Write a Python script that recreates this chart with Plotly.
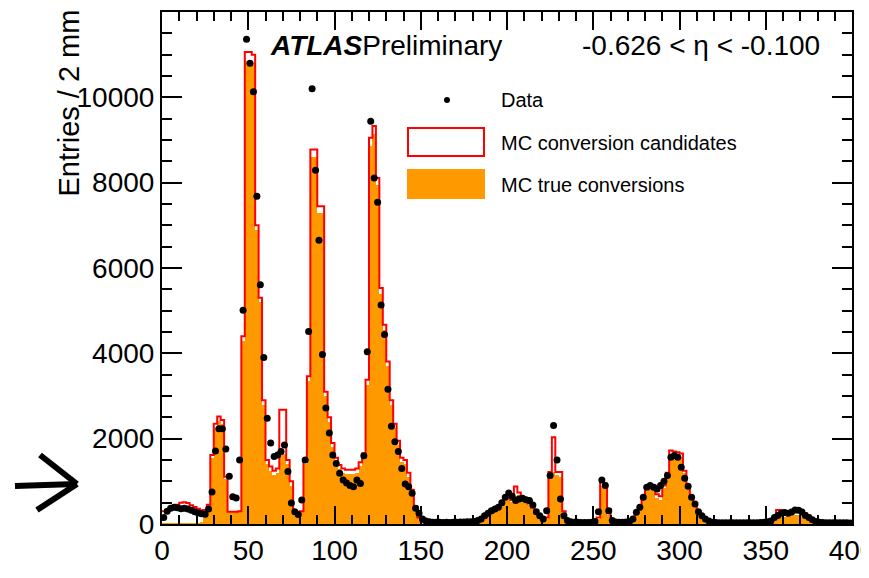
import plotly.graph_objects as go

# ---------------- data (2 mm bins, 0-400 mm) ----------------
bin_edges = list(range(0, 402, 2))
bin_centers = [e + 1 for e in bin_edges[:-1]]

mc_candidates = [
    300, 330, 370, 400, 450, 500, 510, 490, 440, 400,
    360, 320, 330, 450, 1620, 2350, 2520, 2440, 1110, 290,
    290, 290, 300, 4400, 11060, 11060, 11000, 7000, 5300, 2900,
    1500, 1350, 1250, 1300, 2680, 2680, 1500, 1000, 290, 290,
    300, 1500, 3460, 8780, 8780, 7450, 7450, 3100, 2500, 1900,
    1550, 1380, 1300, 1270, 1270, 1270, 1300, 1450, 1650, 3380,
    9050, 9330, 8110, 5530, 4670, 3810, 2900, 2350, 1950, 1550,
    1500, 1200, 800, 420, 150, 60, 40, 35, 30, 30,
    30, 30, 30, 30, 30, 30, 35, 35, 40, 40,
    45, 60, 90, 150, 220, 280, 330, 400, 520, 620,
    600, 560, 880, 740, 620, 580, 480, 380, 250, 150,
    80, 150, 1220, 2035, 1220, 1220, 300, 80, 40, 35,
    35, 30, 30, 30, 35, 40, 150, 1000, 950, 250,
    60, 40, 35, 35, 40, 50, 80, 250, 400, 600,
    820, 900, 900, 700, 650, 900, 1200, 1720, 1700, 1680,
    1650, 1250, 900, 650, 450, 300, 200, 120, 70, 45,
    35, 30, 30, 30, 30, 30, 30, 30, 30, 30,
    30, 30, 30, 35, 40, 50, 60, 150, 330, 330,
    250, 260, 280, 300, 290, 280, 250, 200, 130, 60,
    40, 35, 30, 30, 30, 30, 30, 30, 30, 30,
]

mc_true = [
    10, 10, 15, 15, 20, 20, 20, 20, 20, 20,
    20, 30, 250, 400, 1550, 2250, 2420, 2350, 1050, 270,
    270, 270, 280, 4300, 10860, 10860, 10800, 6900, 5200, 2800,
    1400, 1250, 1150, 1200, 1650, 1650, 1400, 900, 270, 270,
    280, 1400, 3350, 8600, 8600, 7300, 7300, 3000, 2400, 1800,
    1450, 1300, 1200, 1180, 1180, 1180, 1200, 1350, 1550, 3250,
    8850, 9150, 7950, 5400, 4550, 3700, 2800, 2250, 1850, 1450,
    1400, 1100, 720, 380, 130, 40, 20, 15, 10, 10,
    10, 10, 10, 10, 10, 10, 12, 12, 15, 15,
    20, 30, 60, 120, 190, 250, 300, 370, 480, 580,
    560, 520, 650, 680, 580, 540, 450, 350, 220, 120,
    50, 120, 1100, 1220, 1150, 1100, 260, 50, 15, 10,
    10, 10, 10, 10, 12, 15, 120, 900, 820, 200,
    30, 15, 12, 12, 15, 25, 60, 220, 370, 560,
    780, 860, 860, 620, 560, 850, 1150, 1650, 1620, 1600,
    1580, 1200, 860, 620, 420, 270, 170, 100, 50, 25,
    15, 10, 10, 10, 10, 10, 10, 10, 10, 10,
    10, 10, 10, 12, 15, 20, 30, 100, 200, 220,
    160, 180, 200, 220, 210, 200, 180, 140, 90, 40,
    20, 15, 10, 10, 10, 10, 10, 10, 10, 10,
]

data_counts = [
    150, 300, 370, 390, 380, 360, 370, 350, 320, 290,
    260, 240, 230, 350, 750, 1710, 2230, 2230, 1760, 1120,
    640, 610, 1500, 5010, 11360, 10800, 10130, 7680, 5610, 3900,
    2480, 1900, 1580, 1620, 1700, 1850, 1230, 490, 290, 220,
    560, 1500, 4510, 10200, 8290, 6650, 3970, 2720, 2130, 1620,
    1420, 1190, 1030, 960, 900, 875, 1030, 950, 1600, 4040,
    9440, 8110, 7540, 5130, 4440, 3160, 2290, 1930, 1700, 1300,
    940, 875, 720, 370, 250, 120, 70, 50, 40, 40,
    40, 35, 40, 35, 40, 40, 45, 45, 50, 50,
    60, 80, 120, 196, 250, 313, 350, 391, 500, 626,
    728, 650, 548, 587, 603, 570, 548, 446, 290, 196,
    117, 313, 1135, 2308, 1502, 587, 196, 80, 50, 40,
    40, 35, 35, 35, 40, 60, 290, 1033, 901, 313,
    80, 45, 40, 40, 45, 60, 120, 274, 391, 626,
    861, 900, 861, 822, 900, 1000, 1135, 1565, 1604, 1565,
    1330, 1072, 884, 626, 469, 290, 196, 117, 70, 39,
    35, 30, 30, 30, 30, 30, 30, 30, 30, 30,
    30, 30, 30, 35, 40, 50, 70, 150, 200, 250,
    270, 250, 280, 330, 320, 280, 200, 150, 100, 60,
    40, 35, 30, 30, 30, 30, 30, 30, 30, 25,
]

x_tick_values = [0, 50, 100, 150, 200, 250, 300, 350, 400]
x_tick_text = ["0", "50", "100", "150", "200", "250", "300", "350", "400"]
y_tick_values = [0, 2000, 4000, 6000, 8000, 10000]
y_tick_text = ["0", "2000", "4000", "6000", "8000", "10000"]

legend_labels = ["Data", "MC conversion candidates", "MC true conversions"]
eta_label = "-0.626 &lt; \u03b7 &lt; -0.100"
y_title = "Entries / 2 mm"

# ---------------- layout geometry ----------------
# the page body adds an 8 px offset; screen coordinates are used below
OFF = 8
W, H = 869, 578
SX0, SX1, SY0, SY1 = 162, 852, 12, 524          # plot frame on screen
L, T = SX0 - OFF, SY0 - OFF
R, B = W - (SX1 - OFF), H - (SY1 - OFF)
PW, PH = SX1 - SX0, SY1 - SY0

def px(xs):
    return (xs - SX0) / PW

def py(ys):
    return (SY1 - ys) / PH

ORANGE = "#FF9900"
RED = "#FF0000"
FONT = "Liberation Sans, Arial, Helvetica, sans-serif"

fig = go.Figure()

fig.add_trace(go.Bar(
    x=bin_centers, y=mc_true, width=2,
    marker=dict(color=ORANGE, line=dict(width=0)),
    showlegend=False, hoverinfo="skip",
))

fig.add_trace(go.Scatter(
    x=bin_edges, y=mc_candidates + [mc_candidates[-1]],
    mode="lines", line=dict(color=RED, width=2, shape="hv"),
    showlegend=False, hoverinfo="skip",
))

fig.add_trace(go.Scatter(
    x=bin_centers, y=data_counts, mode="markers",
    marker=dict(color="black", size=7),
    showlegend=False,
))

axis_common = dict(
    showline=True, linecolor="black", linewidth=2,
    mirror="allticks", ticks="inside", tickcolor="black", tickwidth=2,
    showgrid=False, zeroline=False, automargin=False,
    tickfont=dict(family=FONT, size=28, color="black"),
    ticklabeloverflow="allow",
)

fig.update_xaxes(
    range=[0, 400], tickvals=x_tick_values, ticktext=x_tick_text, ticklen=18,
    minor=dict(dtick=10, ticklen=9, ticks="inside", tickcolor="black", tickwidth=2),
    **axis_common,
)
fig.update_yaxes(
    range=[0, 12000], tickvals=y_tick_values, ticktext=y_tick_text, ticklen=20,
    minor=dict(dtick=500, ticklen=10, ticks="inside", tickcolor="black", tickwidth=2),
    **axis_common,
)

shapes = [
    # legend: data marker
    dict(type="circle", xref="paper", yref="paper",
         x0=px(444), x1=px(450), y0=py(103), y1=py(97),
         fillcolor="black", line=dict(width=0)),
    # legend: candidates box
    dict(type="rect", xref="paper", yref="paper",
         x0=px(408), x1=px(484), y0=py(156), y1=py(128),
         fillcolor="white", line=dict(color=RED, width=2)),
    # legend: true conversions box
    dict(type="rect", xref="paper", yref="paper",
         x0=px(407), x1=px(485), y0=py(199), y1=py(169),
         fillcolor=ORANGE, line=dict(width=0)),
    # hand-drawn arrow on the left
    dict(type="line", xref="paper", yref="paper",
         x0=px(15), x1=px(76), y0=py(486), y1=py(484),
         line=dict(color="black", width=6)),
    dict(type="line", xref="paper", yref="paper",
         x0=px(40), x1=px(77), y0=py(455), y1=py(484),
         line=dict(color="black", width=6)),
    dict(type="line", xref="paper", yref="paper",
         x0=px(37), x1=px(77), y0=py(510), y1=py(484),
         line=dict(color="black", width=6)),
]

annotations = [
    dict(text="<b><i>ATLAS</i></b>Preliminary", xref="paper", yref="paper",
         x=px(268), y=py(45), xanchor="left", yanchor="middle", showarrow=False,
         font=dict(family=FONT, size=28, color="black")),
    dict(text=eta_label, xref="paper", yref="paper",
         x=px(822), y=py(45), xanchor="right", yanchor="middle", showarrow=False,
         font=dict(family=FONT, size=28, color="black")),
    dict(text=legend_labels[0], xref="paper", yref="paper",
         x=px(499), y=py(100), xanchor="left", yanchor="middle", showarrow=False,
         font=dict(family=FONT, size=20, color="black")),
    dict(text=legend_labels[1], xref="paper", yref="paper",
         x=px(499), y=py(143), xanchor="left", yanchor="middle", showarrow=False,
         font=dict(family=FONT, size=20, color="black")),
    dict(text=legend_labels[2], xref="paper", yref="paper",
         x=px(499), y=py(185), xanchor="left", yanchor="middle", showarrow=False,
         font=dict(family=FONT, size=20, color="black")),
    dict(text=y_title, xref="paper", yref="paper", textangle=-90,
         x=px(68), y=py(8), xanchor="center", yanchor="top", showarrow=False,
         font=dict(family=FONT, size=29, color="black")),
]

fig.update_layout(
    width=W, height=H,
    margin=dict(l=L, r=R, t=T, b=B, pad=0),
    paper_bgcolor="white", plot_bgcolor="white",
    barmode="overlay", bargap=0,
    shapes=shapes, annotations=annotations,
    showlegend=False,
)

fig.write_html("out.html")
